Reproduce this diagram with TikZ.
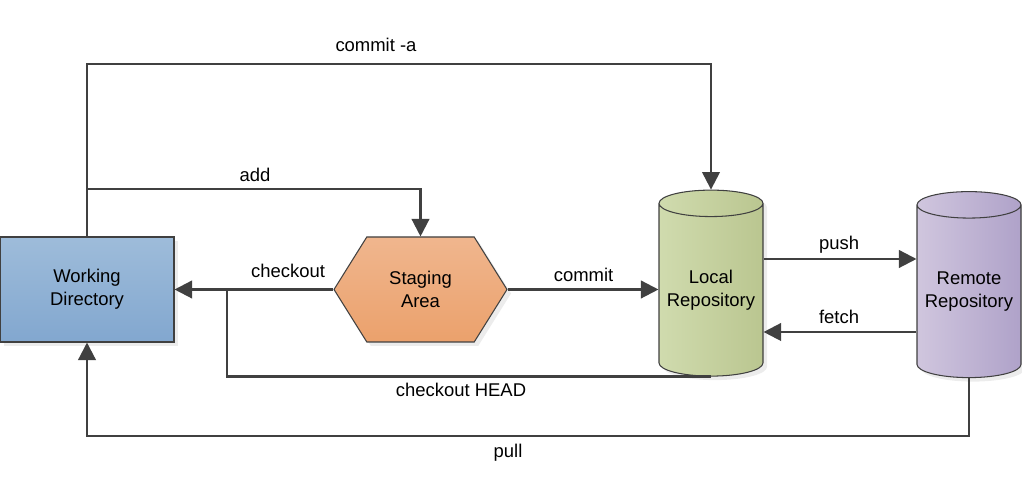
\documentclass[tikz,border=0pt]{standalone}
\usepackage{fontspec}
\setmainfont{Liberation Sans}
\usetikzlibrary{arrows.meta,shapes.geometric,shapes.symbols,shadows}

\definecolor{linegray}{HTML}{404040}
\definecolor{wdtop}{HTML}{9EBCDA}
\definecolor{wdbottom}{HTML}{82A7CF}
\definecolor{satop}{HTML}{F0B68E}
\definecolor{sabottom}{HTML}{EBA16C}
\definecolor{lrleft}{HTML}{D0DBAE}
\definecolor{lrright}{HTML}{BAC690}
\definecolor{rrleft}{HTML}{D0C6DE}
\definecolor{rrright}{HTML}{AFA2C9}

\begin{document}
\begin{tikzpicture}[
    font=\fontsize{10.5}{13.2}\selectfont,
    box/.style={draw=linegray, line width=0.6pt, align=center, inner sep=0pt,
        drop shadow={opacity=0.15, shadow xshift=0.08cm, shadow yshift=-0.08cm}},
    repo/.style={box, cylinder, shape border rotate=90, aspect=0.3,
        minimum width=2.08cm, minimum height=3.72cm},
    flow/.style={draw=linegray, line width=1.3pt, -{Triangle[length=10pt, width=10pt]}},
    plain/.style={draw=linegray, line width=1.3pt},
    lbl/.style={inner sep=0pt}
]
    \useasboundingbox (0,0) rectangle (20.44,10);

    % nodes (areas)
    \node[box, rectangle, minimum width=3.48cm, minimum height=2.1cm,
        top color=wdtop, bottom color=wdbottom] (wd) at (1.74,4.21) {Working\\Directory};
    \node[box, signal, signal to=east and west, signal pointer angle=116,
        minimum width=3.46cm, minimum height=2.1cm,
        top color=satop, bottom color=sabottom] (stage) at (8.41,4.21) {Staging\\Area};
    \node[repo, left color=lrleft, right color=lrright] (local) at (14.22,4.20) {Local\\Repository};
    \node[repo, left color=rrleft, right color=rrright] (remote) at (19.38,4.17) {Remote\\Repository};

    % helper points
    \coordinate (join) at (4.54,4.21); % checkout HEAD meets checkout

    % paths
    \draw[flow] (wd.north) -- (1.74,8.72) -| (local.north); % commit -a
    \draw[flow] (1.74,6.22) -| (stage.north); % add
    \draw[flow] (stage.west) -- (wd.east); % checkout
    \draw[flow] (stage.east) -- (stage.east -| local.west); % commit
    \draw[plain] (local.south) -| (join); % checkout HEAD
    \draw[flow] (local.east |- 0,4.82) -- (remote.west |- 0,4.82); % push
    \draw[flow] (remote.west |- 0,3.36) -- (local.east |- 0,3.36); % fetch
    \draw[flow] (remote.south) |- (1.74,1.28) -- (wd.south); % pull

    % labels
    \node[lbl] (lcommita) at (7.52,9.10) {commit -a};
    \node[lbl] (ladd) at (5.10,6.50) {add};
    \node[lbl] (lcheckout) at (5.76,4.58) {checkout};
    \node[lbl] (lcommit) at (11.67,4.50) {commit};
    \node[lbl] (lpush) at (16.78,5.10) {push};
    \node[lbl] (lfetch) at (16.78,3.66) {fetch};
    \node[lbl] (lhead) at (9.22,2.20) {checkout HEAD};
    \node[lbl] (lpull) at (10.16,0.94) {pull};

\end{tikzpicture}
\end{document}
